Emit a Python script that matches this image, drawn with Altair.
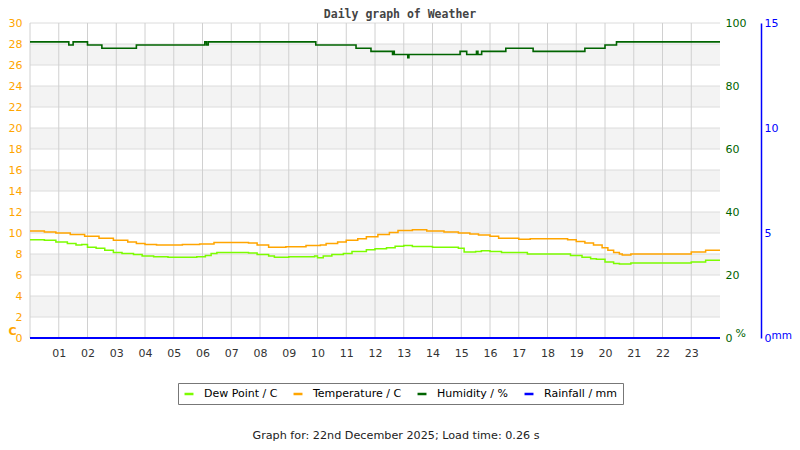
import pandas as pd
import altair as alt

# hour of day -> reading (step changes)
temp_hours = [0.0, 0.5, 0.9, 1.4, 1.9, 2.4, 2.9, 3.4, 3.7, 4.0, 4.4, 5.3, 5.9, 6.4,
              7.6, 7.9, 8.3, 8.9, 9.6, 10.1, 10.3, 10.7, 11.0, 11.4, 11.7, 12.1,
              12.5, 12.8, 13.3, 13.8, 14.4, 14.9, 15.3, 15.6, 16.0, 16.3, 17.0,
              17.4, 18.7, 19.0, 19.3, 19.6, 19.9, 20.1, 20.3, 20.5, 20.6, 20.9,
              23.0, 23.5, 24.0]
temp_vals = [10.2, 10.1, 10.0, 9.85, 9.7, 9.5, 9.3, 9.15, 9.0, 8.9, 8.85, 8.9, 8.95, 9.1,
             9.05, 8.85, 8.65, 8.7, 8.8, 8.85, 9.0, 9.15, 9.3, 9.45, 9.65, 9.85,
             10.05, 10.25, 10.3, 10.2, 10.1, 10.0, 9.9, 9.8, 9.7, 9.5, 9.4,
             9.45, 9.35, 9.2, 9.05, 8.85, 8.6, 8.35, 8.15, 8.0, 7.9, 8.0,
             8.2, 8.35, 8.35]

dew_hours = [0.0, 0.5, 0.9, 1.3, 1.6, 1.8, 2.0, 2.3, 2.6, 2.9, 3.2, 3.6, 3.9, 4.3,
             4.8, 5.8, 6.1, 6.3, 6.5, 7.6, 7.9, 8.3, 8.5, 9.0, 9.9, 10.0, 10.2,
             10.5, 10.9, 11.2, 11.7, 12.0, 12.4, 12.7, 13.0, 13.3, 14.0, 14.9,
             15.1, 15.5, 15.7, 16.0, 16.4, 17.3, 18.8, 19.2, 19.5, 19.7, 20.0,
             20.3, 20.5, 20.9, 23.0, 23.5, 24.0]
dew_vals = [9.35, 9.3, 9.15, 9.0, 8.85, 8.9, 8.65, 8.55, 8.35, 8.15, 8.05, 7.95, 7.8, 7.75,
            7.7, 7.75, 7.85, 8.05, 8.15, 8.1, 7.95, 7.8, 7.7, 7.75, 7.8, 7.65, 7.8,
            7.95, 8.05, 8.25, 8.4, 8.5, 8.6, 8.75, 8.8, 8.72, 8.65, 8.55,
            8.2, 8.25, 8.3, 8.25, 8.15, 8.0, 7.85, 7.7, 7.55, 7.5, 7.25,
            7.1, 7.05, 7.15, 7.25, 7.4, 7.4]

hum_hours = [0.0, 1.35, 1.5, 2.0, 2.5, 3.7, 6.08, 6.14, 6.2, 9.94, 11.34, 11.86,
             12.61, 12.64, 12.67, 13.14, 13.18, 14.96, 15.19, 15.53, 15.58, 15.71,
             16.55, 17.5, 19.3, 20.0, 20.4, 24.0]
hum_vals = [94, 93, 94, 93, 92, 93, 94, 93, 94, 93, 92, 91,
            90, 91, 90, 89, 90, 91, 90, 91, 90, 91,
            92, 91, 92, 93, 94, 94]

rain_hours = [0.0, 24.0]
rain_vals = [0.0, 0.0]

series_names = ['Dew Point / C', 'Temperature / C', 'Humidity / %', 'Rainfall / mm']
series_colors = ['#7CFC00', '#FFA500', '#006400', '#0000FF']

hour_ticks = list(range(1, 24))
grid_hours = list(range(0, 24))
grid_temps = list(range(0, 31, 2))
band_lo = [2, 6, 10, 14, 18, 22, 26]
band_hi = [4, 8, 12, 16, 20, 24, 28]
temp_ticks = list(range(0, 31, 2))
hum_ticks = [0, 20, 40, 60, 80, 100]
rain_ticks = [0, 5, 10, 15]
footer = 'Graph for: 22nd December 2025; Load time: 0.26 s'

temp_df = pd.concat([
    pd.DataFrame({'hour': dew_hours, 'value': dew_vals, 'series': series_names[0]}),
    pd.DataFrame({'hour': temp_hours, 'value': temp_vals, 'series': series_names[1]}),
])
hum_df = pd.DataFrame({'hour': hum_hours, 'value': hum_vals, 'series': series_names[2]})
rain_df = pd.DataFrame({'hour': rain_hours, 'value': rain_vals, 'series': series_names[3]})
bands_df = pd.DataFrame({'lo': band_lo, 'hi': band_hi, 'x0': 0, 'x1': 24})
vgrid_df = pd.DataFrame({'hour': grid_hours})
hgrid_df = pd.DataFrame({'t': grid_temps})
footer_df = pd.DataFrame({'text': [footer]})

FONT = 'DejaVu Sans'
x_scale = alt.Scale(domain=[0, 24], nice=False)
color = alt.Color('series:N', scale=alt.Scale(domain=series_names, range=series_colors),
                  legend=alt.Legend(title=None, orient='none', legendX=148, legendY=360,
                                    direction='horizontal', strokeColor='#777',
                                    padding=5, symbolType='stroke', symbolStrokeWidth=2.5,
                                    symbolSize=80, labelFontSize=11, labelFont=FONT,
                                    labelColor='#000', columnPadding=10, labelOffset=9,
                                    labelLimit=300))

x_axis = alt.Axis(values=hour_ticks, grid=False, ticks=False, domain=False,
                  labelExpr="datum.value < 10 ? '0' + datum.value : '' + datum.value",
                  labelColor='#333', labelFontSize=11, labelFont=FONT, labelPadding=9, title=None)
temp_axis = alt.Axis(values=temp_ticks, orient='left', grid=False, ticks=False, domain=False,
                     labelColor='#FFA500', labelFontSize=11, labelFont=FONT, labelPadding=8,
                     title='C', titleAngle=0, titleX=-22, titleY=308, titleAlign='left',
                     titleBaseline='middle', titleColor='#FFA500', titleFontSize=11,
                     titleFont=FONT, titleFontWeight='bold')
hum_axis = alt.Axis(values=hum_ticks, orient='right', grid=False, ticks=False, domain=False,
                    labelColor='#006400', labelFontSize=11, labelFont=FONT, labelPadding=5,
                    title='%', titleAngle=0, titleX=15, titleY=310, titleAlign='left',
                    titleBaseline='middle', titleColor='#006400', titleFontSize=11,
                    titleFont=FONT, titleFontWeight='normal')
rain_axis = alt.Axis(values=rain_ticks, orient='right', offset=41, grid=False, ticks=False,
                     domain=True, domainColor='#0000FF', domainWidth=1.5,
                     labelColor='#0000FF', labelFontSize=11, labelFont=FONT, labelPadding=3,
                     title='mm', titleAngle=0, titleX=10, titleY=312, titleAlign='left',
                     titleBaseline='middle', titleColor='#0000FF', titleFontSize=10.5,
                     titleFont=FONT, titleFontWeight='normal')

bands = alt.Chart(bands_df).mark_rect(color='#f3f3f3').encode(
    x=alt.X('x0:Q', scale=x_scale, axis=x_axis), x2='x1:Q',
    y=alt.Y('lo:Q', scale=alt.Scale(domain=[0, 30], nice=False), axis=None), y2='hi:Q')
hgrid = alt.Chart(hgrid_df).mark_rule(color='#dcdcdc', strokeWidth=1).encode(
    y=alt.Y('t:Q', scale=alt.Scale(domain=[0, 30], nice=False), axis=None))
vgrid = alt.Chart(vgrid_df).mark_rule(color='#d0d0d0', strokeWidth=1).encode(
    x=alt.X('hour:Q', scale=x_scale, axis=x_axis))
temp_lines = alt.Chart(temp_df).mark_line(interpolate='step-after', strokeWidth=1.5).encode(
    x=alt.X('hour:Q', scale=x_scale, axis=x_axis),
    y=alt.Y('value:Q', scale=alt.Scale(domain=[0, 30], nice=False), axis=temp_axis),
    color=color, detail='series:N')
hum_line = alt.Chart(hum_df).mark_line(interpolate='step-after', strokeWidth=1.6).encode(
    x=alt.X('hour:Q', scale=x_scale, axis=x_axis),
    y=alt.Y('value:Q', scale=alt.Scale(domain=[0, 100], nice=False), axis=hum_axis),
    color=color)
rain_line = alt.Chart(rain_df).mark_line(interpolate='step-after', strokeWidth=2).encode(
    x=alt.X('hour:Q', scale=x_scale, axis=x_axis),
    y=alt.Y('value:Q', scale=alt.Scale(domain=[0, 15], nice=False), axis=rain_axis),
    color=color)
foot = alt.Chart(footer_df).mark_text(font=FONT, fontSize=11.2, color='#222').encode(
    text='text:N', x=alt.value(366), y=alt.value(413))

chart = alt.layer(bands, hgrid, vgrid, temp_lines, hum_line, rain_line, foot).resolve_scale(
    y='independent'
).properties(
    width=690, height=315,
    autosize=alt.AutoSizeParams(type='none'),
    padding={'left': 22, 'top': 15, 'right': 72, 'bottom': 104},
    title=alt.TitleParams('Daily graph of Weather', font='DejaVu Sans Mono', fontSize=11.5,
                          fontWeight='bold', color='#444', anchor='middle', dx=25, dy=9,
                          offset=6),
    background='white'
).configure_view(stroke=None)

chart.save("out.html", embed_options={"renderer": "svg", "actions": False})
